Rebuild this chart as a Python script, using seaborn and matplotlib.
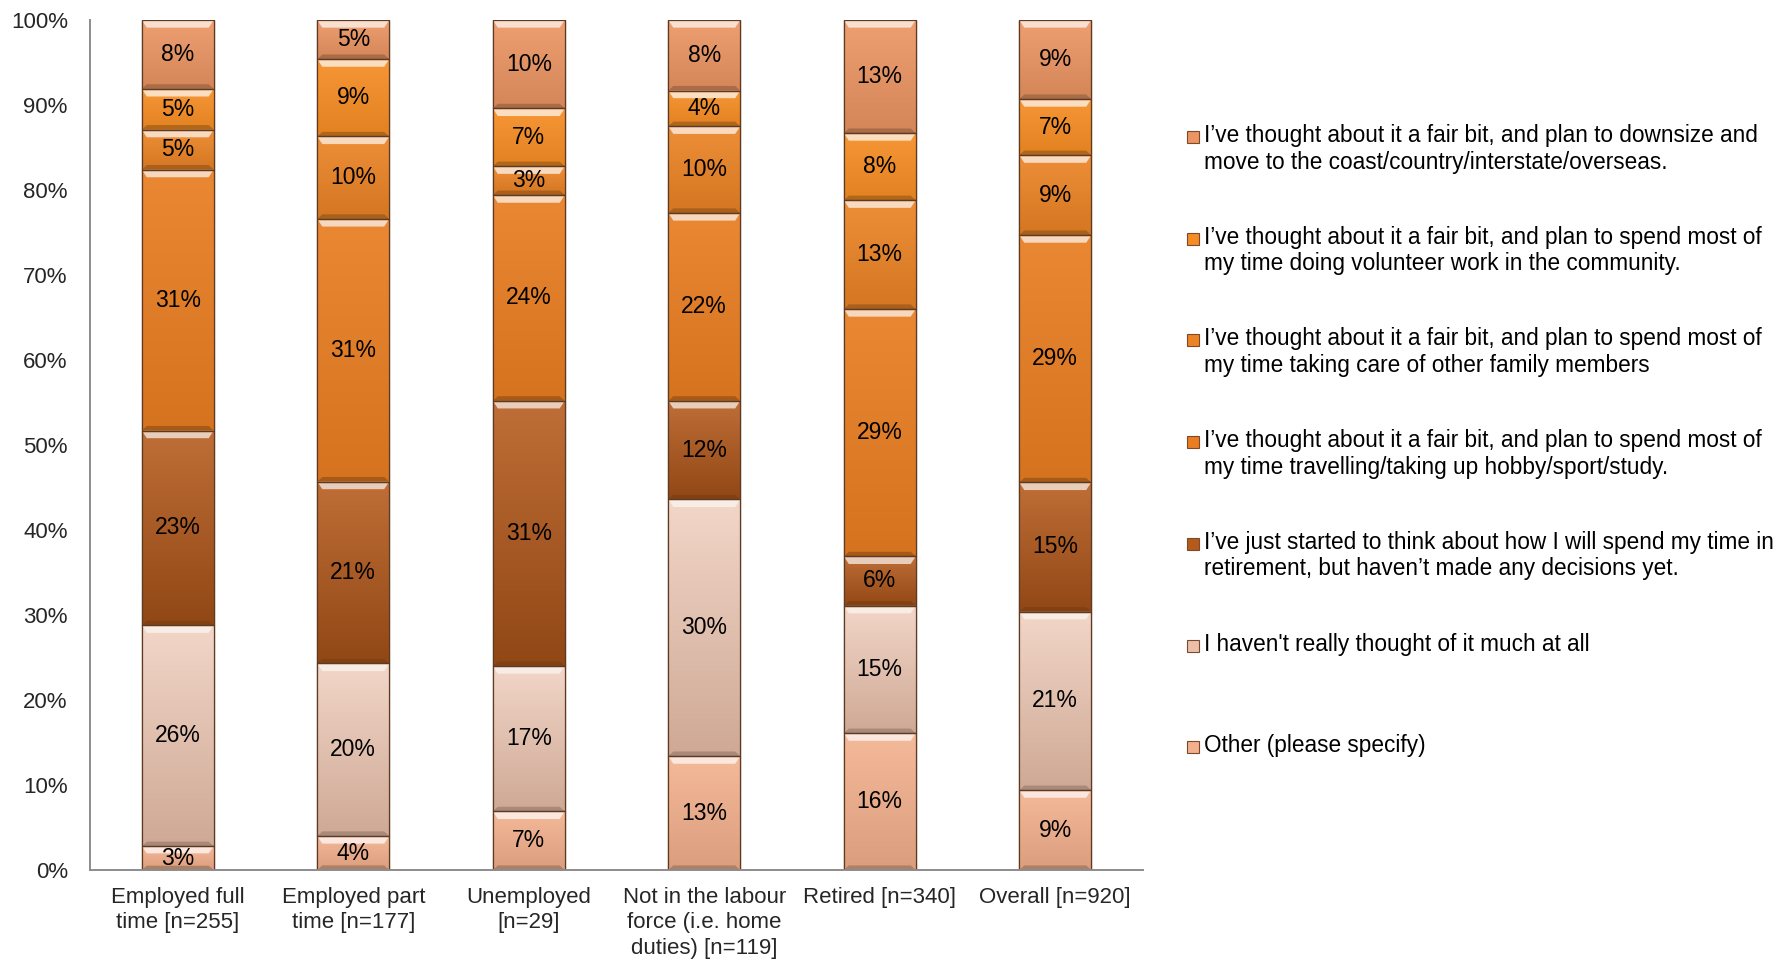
import numpy as np
import pandas as pd
import matplotlib
matplotlib.use("Agg")
import matplotlib.pyplot as plt
from matplotlib.colors import LinearSegmentedColormap
from matplotlib.patches import Rectangle, Polygon
import seaborn as sns

# ---- data (percent of each group, bottom segment first) ----
groups = [
    "Employed full\ntime [n=255]",
    "Employed part\ntime [n=177]",
    "Unemployed\n[n=29]",
    "Not in the labour\nforce (i.e. home\nduties) [n=119]",
    "Retired [n=340]",
    "Overall [n=920]",
]

other = [2.8, 4.0, 6.9, 13.4, 16.1, 9.4]
not_thought = [26.0, 20.3, 17.1, 30.2, 15.0, 21.0]
just_started = [22.9, 21.4, 31.2, 11.6, 5.8, 15.2]
travelling = [30.7, 30.9, 24.2, 22.1, 29.1, 29.1]
family_care = [4.7, 9.7, 3.4, 10.2, 12.8, 9.4]
volunteer = [4.8, 9.1, 6.8, 4.2, 7.9, 6.6]
downsize = [8.1, 4.6, 10.4, 8.3, 13.3, 9.3]

series_names = [
    "I\u2019ve thought about it a fair bit, and plan to downsize and\nmove to the coast/country/interstate/overseas.",
    "I\u2019ve thought about it a fair bit, and plan to spend most of\nmy time doing volunteer work in the community.",
    "I\u2019ve thought about it a fair bit, and plan to spend most of\nmy time taking care of other family members",
    "I\u2019ve thought about it a fair bit, and plan to spend most of\nmy time travelling/taking up hobby/sport/study.",
    "I\u2019ve just started to think about how I will spend my time in\nretirement, but haven\u2019t made any decisions yet.",
    "I haven't really thought of it much at all",
    "Other (please specify)",
]
# top of stack first, same order as series_names
series_values = [downsize, volunteer, family_care, travelling,
                 just_started, not_thought, other]
series_colors = ["#EC9562", "#F68D24", "#EC8426", "#E87D22",
                 "#B65A1B", "#EBC0AA", "#F3B08C"]
# (top, bottom) gradient shades for each segment, same order
series_shades = [(0.10, 0.90), (0.08, 0.92), (0.08, 0.90), (0.08, 0.92),
                 (0.12, 0.80), (0.35, 0.88), (0.12, 0.90)]

rows = []
for name, vals in zip(series_names, series_values):
    for g, v in zip(groups, vals):
        rows.append({"group": g, "series": name, "value": v})
df = pd.DataFrame(rows)

# ---- figure ----
sns.set_style("white")
plt.rcParams["font.family"] = ["Liberation Sans", "DejaVu Sans"]

W, H = 1777, 961
fig = plt.figure(figsize=(W / 100, H / 100), dpi=100)
ax = fig.add_axes([90 / W, 1 - 870 / H, (1143 - 90) / W, 850 / H])

sns.histplot(
    data=df, x="group", hue="series", weights="value",
    hue_order=series_names, palette=dict(zip(series_names, series_colors)),
    multiple="stack", discrete=True, shrink=0.41, alpha=1,
    edgecolor="#5E3A22", linewidth=0.9, legend=False, ax=ax,
)

# bevel / gradient look on each segment
color_shade = {c: s for c, s in zip(series_colors, series_shades)}
grad = np.linspace(0, 1, 64).reshape(-1, 1)
for bar in list(ax.patches):
    x0, y0 = bar.get_x(), bar.get_y()
    w, h = bar.get_width(), bar.get_height()
    base = np.array(bar.get_facecolor()[:3])
    key = matplotlib.colors.to_hex(base).upper()
    lift, dark = color_shade.get(key, (0.08, 0.9))
    top_c = base + (1 - base) * lift
    bot_c = base * dark
    cmap = LinearSegmentedColormap.from_list("g", [bot_c, top_c])
    ax.imshow(grad, extent=[x0, x0 + w, y0, y0 + h], origin="lower",
              cmap=cmap, aspect="auto", interpolation="bicubic", zorder=1.5)
    hl = min(0.9, h * 0.3)
    inset = w * 0.07
    ax.add_patch(Polygon(
        [(x0, y0 + h), (x0 + w, y0 + h), (x0 + w - inset, y0 + h - hl), (x0 + inset, y0 + h - hl)],
        closed=True, facecolor=base + (1 - base) * 0.7, edgecolor="none", zorder=1.6))
    ax.add_patch(Polygon(
        [(x0, y0), (x0 + w, y0), (x0 + w - inset, y0 + hl * 0.6), (x0 + inset, y0 + hl * 0.6)],
        closed=True, facecolor=base * 0.72, edgecolor="none", zorder=1.6))
    ax.add_patch(Rectangle((x0, y0), w, h, facecolor="none",
                           edgecolor="#5E3A22", linewidth=0.9, zorder=1.7))

ax.set_xlim(-0.5, len(groups) - 0.5)
ax.set_ylim(0, 100)

# data labels, centred in each segment
bottom_first = series_values[::-1]
for i in range(len(groups)):
    base_y = 0
    for vals in bottom_first:
        v = vals[i]
        ax.text(i, base_y + v / 2, f"{v:.0f}%", ha="center", va="center",
                fontsize=16.5, color="black", zorder=3)
        base_y += v

# axes styling
ax.set_yticks(range(0, 101, 10))
ax.set_yticklabels([f"{t}%" for t in range(0, 101, 10)], fontsize=16)
ax.set_xticks(range(len(groups)))
ax.set_xticklabels(groups, fontsize=16, linespacing=1.3)
ax.set_xticks(np.arange(-0.5, len(groups), 1), minor=True)
ax.tick_params(axis="x", which="major", length=0, pad=12)
ax.tick_params(axis="x", which="minor", length=7, color="#8C8C8C", width=1.2)
ax.tick_params(axis="y", length=6, color="#8C8C8C", width=1.2, pad=10)
ax.set_xlabel("")
ax.set_ylabel("")
for side in ["top", "right"]:
    ax.spines[side].set_visible(False)
for side in ["left", "bottom"]:
    ax.spines[side].set_color("#8C8C8C")
    ax.spines[side].set_linewidth(1.4)

# legend drawn beside the plot, evenly spaced entries
leg_x, leg_top, leg_step = 1204, 124, 101.7
for k, (name, col) in enumerate(zip(series_names, series_colors)):
    ty = leg_top + k * leg_step
    fig.text(leg_x / W, 1 - ty / H, name, ha="left", va="top",
             fontsize=16.3, linespacing=1.2, color="black")
    fig.add_artist(Rectangle(((leg_x - 17) / W, 1 - (ty + 19) / H), 12 / W, 12 / H,
                             transform=fig.transFigure, facecolor=col,
                             edgecolor="#7A4A2A", linewidth=0.8))

fig.savefig("out.png", dpi=100)
